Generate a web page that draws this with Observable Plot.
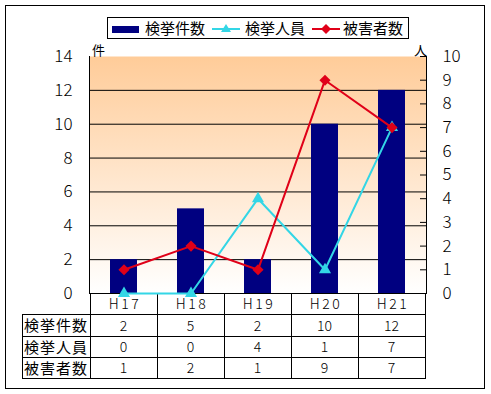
<!DOCTYPE html>
<html><head><meta charset="utf-8">
<script src="https://cdn.jsdelivr.net/npm/d3@7"></script>
<script src="https://cdn.jsdelivr.net/npm/@observablehq/plot@0.6"></script>
<style>
body{margin:0;background:#fff;font-family:"Noto Sans CJK JP",sans-serif;}
#wrap{position:relative;width:491px;height:394px;overflow:hidden;background:#fff;}
.abs{position:absolute;}
#border{left:5px;top:5px;width:478px;height:382px;border:1px solid #000;}
#legend{left:107px;top:17px;width:300px;height:20px;border:1px solid #000;background:#fff;}
.lt{font-size:15px;line-height:22px;top:17px;color:#000;white-space:nowrap;}
.hl{height:1px;background:#000;}
.vl{width:1px;background:#000;}
.cell{text-align:center;color:#000;white-space:nowrap;}
#plotbox{left:0;top:0;}
.ylab text{font-weight:300;}
.xlab text{letter-spacing:2.5px;font-weight:300;}
</style>
</head><body>
<div id="wrap">
  <div id="border" class="abs"></div>
  <div id="legend" class="abs"></div>
  <div id="table"></div>
  <div id="plotbox" class="abs"></div>
  <div id="leg"></div>
</div>
<script>
const years = ["H17","H18","H19","H20","H21"];
const cases = [2,5,2,10,12];
const arrested = [0,0,4,1,7];
const victims = [1,2,1,9,7];
const seriesNames = ["検挙件数","検挙人員","被害者数"];
const leftTicks = [0,2,4,6,8,10,12,14];
const rightTicks = [0,1,2,3,4,5,6,7,8,9,10];
const leftUnit = "件";
const rightUnit = "人";

const NAVY = "#000080", CYAN = "#33D6E6", RED = "#E00018";
const k = 14/10; // right axis (0-10) mapped onto left axis (0-14)
const rows = years.map((y,i)=>({year:y, cases:cases[i], arrested:arrested[i], victims:victims[i]}));
const FONT = '"Noto Sans CJK JP", sans-serif';

const plot = Plot.plot({
  width:491, height:314,
  marginLeft:89, marginRight:65, marginTop:56, marginBottom:21,
  style:{fontFamily:FONT, fontSize:"14px", color:"#000", background:"transparent", overflow:"visible"},
  x:{domain:years, padding:0},
  y:{domain:[0,14]},
  marks:[
    Plot.frame({fill:"url(#bgGrad)", stroke:"none"}),
    Plot.ruleY(leftTicks.filter(v=>v>0 && v<14), {stroke:"#000", strokeWidth:1}),
    Plot.barY(rows, {x:"year", y:"cases", fill:NAVY, insetLeft:20, insetRight:20}),
    Plot.frame({anchor:"left", stroke:"#000"}),
    Plot.frame({anchor:"right", stroke:"#000"}),
    Plot.ruleY([0], {stroke:"#000"}),
    Plot.axisY({ticks:leftTicks, tickSize:0, tickPadding:17, fontSize:17, label:null, className:"ylab"}),
    Plot.axisY({anchor:"right", ticks:rightTicks.map(v=>v*k), tickSize:7, dx:-7, tickFormat:()=>"", label:null}),
    Plot.axisY({anchor:"right", ticks:rightTicks.map(v=>v*k), tickSize:0, tickPadding:16, tickFormat:d=>String(Math.round(d/k)), fontSize:17, label:null, className:"ylab"}),
    Plot.axisX({tickSize:0, tickPadding:6, label:null, fontSize:14, dx:1, className:"xlab"}),
    Plot.line(rows, {x:"year", y:d=>d.arrested*k, stroke:CYAN, strokeWidth:2}),
    Plot.dot(rows, {x:"year", y:d=>d.arrested*k, symbol:"triangle", fill:CYAN, stroke:"none", r:4.5}),
    Plot.line(rows, {x:"year", y:d=>d.victims*k, stroke:RED, strokeWidth:2}),
    Plot.dot(rows, {x:"year", y:d=>d.victims*k, symbol:"diamond2", fill:RED, stroke:"none", r:5}),
    Plot.text([leftUnit], {frameAnchor:"top-left", dx:9, dy:-11, fontSize:13, textAnchor:"middle"}),
    Plot.text([rightUnit], {frameAnchor:"top-right", dx:-6, dy:-11, fontSize:13, textAnchor:"middle"})
  ]
});
const ns = "http://www.w3.org/2000/svg";
const defs = document.createElementNS(ns, "defs");
defs.innerHTML = '<linearGradient id="bgGrad" x1="0" y1="0" x2="0" y2="1"><stop offset="0" stop-color="#FFCC99"/><stop offset="1" stop-color="#FFFFFF"/></linearGradient>';
plot.insertBefore(defs, plot.firstChild);
document.getElementById("plotbox").appendChild(plot);

// data table below the x axis
const xs = plot.scale("x");
const edges = years.map(y=>xs.apply(y)).concat([xs.apply(years[years.length-1]) + xs.bandwidth]);
const tableLeft = 22, top0 = 293, rowH = 21.3;
const tbl = document.getElementById("table");
function add(cls, css, text){
  const d = document.createElement("div");
  d.className = "abs " + cls;
  Object.assign(d.style, css);
  if (text !== undefined) d.textContent = text;
  tbl.appendChild(d);
}
const yEnd = top0 + rowH*4;
for (let r=1; r<=4; r++) {
  const y = Math.round(top0 + rowH*r);
  add("hl", {left:tableLeft+"px", top:y+"px", width:(edges[edges.length-1]-tableLeft+1)+"px"});
}
add("vl", {left:tableLeft+"px", top:Math.round(top0+rowH)+"px", height:(Math.round(yEnd)-Math.round(top0+rowH))+"px"});
edges.forEach(e=>add("vl", {left:Math.round(e)+"px", top:top0+"px", height:(Math.round(yEnd)-top0)+"px"}));
const series = [cases, arrested, victims];
series.forEach((vals, r)=>{
  const yt = Math.round(top0 + rowH*(r+1));
  const h = Math.round(top0 + rowH*(r+2)) - yt;
  add("cell", {left:tableLeft+"px", top:yt+"px", width:(edges[0]-tableLeft)+"px", height:h+"px", lineHeight:h+"px", fontSize:"15px", letterSpacing:"1px"}, seriesNames[r]);
  vals.forEach((v,i)=>{
    add("cell", {left:edges[i]+"px", top:yt+"px", width:(edges[i+1]-edges[i])+"px", height:h+"px", lineHeight:h+"px", fontSize:"14px", fontWeight:"300"}, String(v));
  });
});

// legend
const leg = document.getElementById("leg");
function sw(html, left){
  const d = document.createElement("div");
  d.className = "abs"; d.style.left = left+"px"; d.style.top = "18px";
  d.innerHTML = html; leg.appendChild(d);
}
function lt(text, left){
  const d = document.createElement("div");
  d.className = "abs lt"; d.style.left = left+"px"; d.textContent = text; leg.appendChild(d);
}
sw(`<svg width="30" height="20"><rect x="2" y="8" width="27" height="7" fill="${NAVY}"/></svg>`, 110);
lt(seriesNames[0], 145);
sw(`<svg width="30" height="20"><line x1="2" x2="30" y1="11" y2="11" stroke="${CYAN}" stroke-width="2"/><path d="M16,6 L21,14 L11,14Z" fill="${CYAN}"/></svg>`, 210);
lt(seriesNames[1], 245);
sw(`<svg width="30" height="20"><line x1="2" x2="30" y1="11" y2="11" stroke="${RED}" stroke-width="2"/><path d="M16,6 L21,11 L16,16 L11,11Z" fill="${RED}"/></svg>`, 310);
lt(seriesNames[2], 343);
</script>
</body></html>
